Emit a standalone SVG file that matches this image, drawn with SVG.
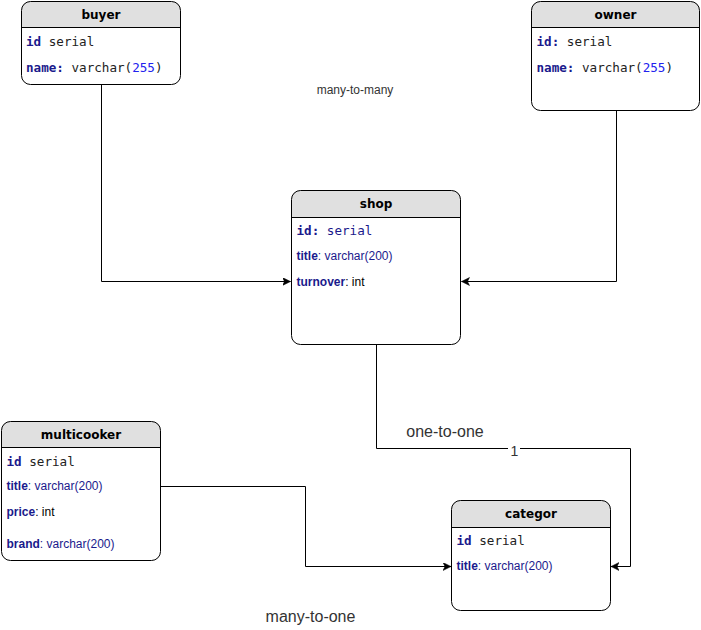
<svg xmlns="http://www.w3.org/2000/svg" width="701" height="630" viewBox="0 0 701 630">
  <style>
    .box { fill: none; stroke: #000; stroke-width: 1; }
    .body { fill: #fff; }
    .head { fill: #e0e0e0; }
    .sep { stroke: #000; stroke-width: 1; }
    .title { font-family: "DejaVu Sans", sans-serif; font-weight: bold; font-size: 12px; fill: #000; text-anchor: middle; }
    .mono { font-family: "DejaVu Sans Mono", "Liberation Mono", monospace; font-size: 12.6px; fill: #222; }
    .sans { font-family: "Liberation Sans", Arial, sans-serif; font-size: 12px; fill: #000; }
    .kw { fill: #1a1a8c; font-weight: bold; }
    .nv { fill: #1a1a8c; }
    .num { fill: #2222ee; }
    .edge { fill: none; stroke: #000; stroke-width: 1; }
    .lbl { font-family: "Liberation Sans", Arial, sans-serif; fill: #333; }
  </style>
  <defs>
    <marker id="arrow" markerUnits="userSpaceOnUse" markerWidth="10" markerHeight="10" refX="8" refY="4" orient="auto">
      <path d="M0,0 L8,4 L0,8 L2,4 Z" fill="#000" stroke="#000" stroke-width="0.5"/>
    </marker>
  </defs>

  <rect width="701" height="630" fill="#fff"/>

  <!-- connectors -->
  <g id="connectors">
    <path class="edge" d="M101.5,84.5 V281.5 H290.5" marker-end="url(#arrow)"/>
    <path class="edge" d="M616.5,110.5 V281.5 H461.5" marker-end="url(#arrow)"/>
    <path class="edge" d="M376.5,344.5 V448.5 H630.5 V566.5 H611" marker-end="url(#arrow)"/>
    <path class="edge" d="M160.5,486.5 H305.5 V566.5 H451" marker-end="url(#arrow)"/>
    <rect x="508" y="443" width="12" height="14" fill="#fff"/>
    <text class="lbl" x="514.5" y="456" font-size="14" text-anchor="middle">1</text>
    <text class="lbl" x="355" y="94" font-size="12" text-anchor="middle">many-to-many</text>
    <text class="lbl" x="445" y="437" font-size="16" text-anchor="middle">one-to-one</text>
    <text class="lbl" x="310.5" y="622" font-size="16" text-anchor="middle">many-to-one</text>
  </g>

  <!-- buyer -->
  <g id="buyer">
    <rect class="body" x="21.5" y="1.5" width="159" height="83" rx="9"/>
    <path class="head" d="M21.5,27.5 V10.5 Q21.5,1.5 30.5,1.5 H171.5 Q180.5,1.5 180.5,10.5 V27.5 Z"/>
    <line class="sep" x1="21.5" y1="27.5" x2="180.5" y2="27.5"/>
    <rect class="box" x="21.5" y="1.5" width="159" height="83" rx="9"/>
    <text class="title" x="101" y="18.5">buyer</text>
    <text class="mono" x="26" y="45.5"><tspan class="kw">id</tspan> serial</text>
    <text class="mono" x="26" y="71.5"><tspan class="kw">name:</tspan> varchar(<tspan class="num">255</tspan>)</text>
  </g>

  <!-- owner -->
  <g id="owner">
    <rect class="body" x="531.5" y="1.5" width="168" height="109" rx="9"/>
    <path class="head" d="M531.5,27.5 V10.5 Q531.5,1.5 540.5,1.5 H690.5 Q699.5,1.5 699.5,10.5 V27.5 Z"/>
    <line class="sep" x1="531.5" y1="27.5" x2="699.5" y2="27.5"/>
    <rect class="box" x="531.5" y="1.5" width="168" height="109" rx="9"/>
    <text class="title" x="615.5" y="18.5">owner</text>
    <text class="mono" x="536.5" y="45.5"><tspan class="kw">id:</tspan> serial</text>
    <text class="mono" x="536.5" y="71.5"><tspan class="kw">name:</tspan> varchar(<tspan class="num">255</tspan>)</text>
  </g>

  <!-- shop -->
  <g id="shop">
    <rect class="body" x="291.5" y="190.5" width="169" height="154" rx="9"/>
    <path class="head" d="M291.5,217.5 V199.5 Q291.5,190.5 300.5,190.5 H451.5 Q460.5,190.5 460.5,199.5 V217.5 Z"/>
    <line class="sep" x1="291.5" y1="217.5" x2="460.5" y2="217.5"/>
    <rect class="box" x="291.5" y="190.5" width="169" height="154" rx="9"/>
    <text class="title" x="376" y="207.5">shop</text>
    <text class="mono" x="296.5" y="235" font-size="13"><tspan class="kw">id:</tspan> <tspan class="nv">serial</tspan></text>
    <text class="sans" x="296.5" y="260"><tspan class="kw">title</tspan><tspan class="nv">: varchar(200)</tspan></text>
    <text class="sans" x="296.5" y="286"><tspan class="kw">turnover</tspan>: int</text>
  </g>

  <!-- multicooker -->
  <g id="multicooker">
    <rect class="body" x="1.5" y="421.5" width="159" height="139" rx="9"/>
    <path class="head" d="M1.5,447.5 V430.5 Q1.5,421.5 10.5,421.5 H151.5 Q160.5,421.5 160.5,430.5 V447.5 Z"/>
    <line class="sep" x1="1.5" y1="447.5" x2="160.5" y2="447.5"/>
    <rect class="box" x="1.5" y="421.5" width="159" height="139" rx="9"/>
    <text class="title" x="81" y="438.5">multicooker</text>
    <text class="mono" x="6.5" y="465.5"><tspan class="kw">id</tspan> serial</text>
    <text class="sans" x="6.5" y="490"><tspan class="kw">title</tspan><tspan class="nv">: varchar(200)</tspan></text>
    <text class="sans" x="6.5" y="515.5"><tspan class="kw">price</tspan>: int</text>
    <text class="sans" x="6.5" y="548"><tspan class="kw">brand</tspan><tspan class="nv">: varchar(200)</tspan></text>
  </g>

  <!-- categor -->
  <g id="categor">
    <rect class="body" x="451.5" y="500.5" width="159" height="110" rx="9"/>
    <path class="head" d="M451.5,527.5 V509.5 Q451.5,500.5 460.5,500.5 H601.5 Q610.5,500.5 610.5,509.5 V527.5 Z"/>
    <line class="sep" x1="451.5" y1="527.5" x2="610.5" y2="527.5"/>
    <rect class="box" x="451.5" y="500.5" width="159" height="110" rx="9"/>
    <text class="title" x="531" y="517.5">categor</text>
    <text class="mono" x="456.5" y="544.5"><tspan class="kw">id</tspan> serial</text>
    <text class="sans" x="456.5" y="570"><tspan class="kw">title</tspan><tspan class="nv">: varchar(200)</tspan></text>
  </g>
</svg>
